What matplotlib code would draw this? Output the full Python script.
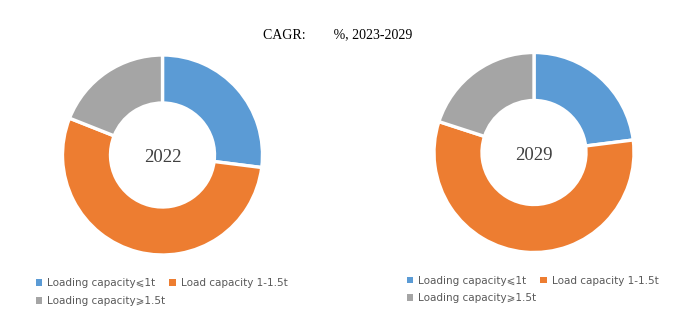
import matplotlib
matplotlib.use("Agg")
import matplotlib.pyplot as plt
from matplotlib.patches import Patch

categories = ["Loading capacity\u2a7d1t", "Load capacity 1-1.5t", "Loading capacity\u2a7e1.5t"]
share_2022 = [27, 54, 19]
share_2029 = [23, 57, 20]
years = ["2022", "2029"]
colors = ["#5B9BD5", "#ED7D31", "#A5A5A5"]
title = "CAGR:        %, 2023-2029"

W, H = 697, 322
fig = plt.figure(figsize=(W / 100, H / 100), dpi=100)
fig.patch.set_facecolor("white")

def px_axes(cx, cy, r):
    return fig.add_axes([(cx - r) / W, (H - cy - r) / H, 2 * r / W, 2 * r / H])

centers = [(162.5, 155, 100), (534, 152.5, 100)]
legend_pos = [(36, 292), (407, 289.5)]

for (cx, cy, r), vals, yr, (lx, ly) in zip(centers, [share_2022, share_2029], years, legend_pos):
    ax = px_axes(cx, cy, r)
    wedges, _ = ax.pie(vals, colors=colors, startangle=90, counterclock=False,
                       radius=1.0,
                       wedgeprops=dict(width=0.48, edgecolor="white", linewidth=2.4))
    ax.set_xlim(-1.0, 1.0)
    ax.set_ylim(-1.0, 1.0)
    ax.set_aspect("equal")
    ax.text(0, -0.03, yr, ha="center", va="center", fontsize=13.5,
            family="Liberation Serif", color="#404040")
    proxies = [Patch(facecolor=c, edgecolor="none") for c in colors]
    handles = [proxies[0], proxies[2], proxies[1]]
    labels = [categories[0], categories[2], categories[1]]
    fig.legend(handles, labels, ncol=2, loc="center left",
               bbox_to_anchor=(lx / W, 1 - ly / H), frameon=False,
               borderpad=0, borderaxespad=0,
               prop=dict(family=["DejaVu Sans"], size=7.5),
               labelcolor="#595959", handlelength=0.62, handleheight=0.62,
               handletextpad=0.45, columnspacing=0.4, labelspacing=0.75)

fig.text(338 / W, 1 - 35 / H, title, ha="center", va="center", fontsize=10,
         family="Liberation Serif", color="black")

fig.savefig("out.png", dpi=100, facecolor="white")
